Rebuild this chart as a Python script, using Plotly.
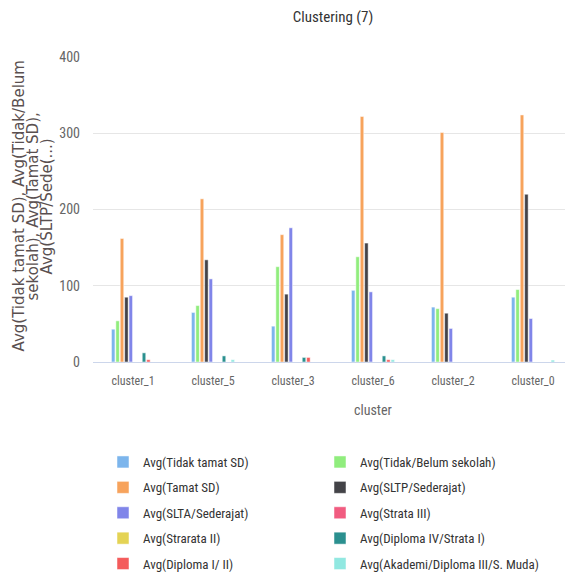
import plotly.graph_objects as go

categories = ["cluster_1", "cluster_5", "cluster_3", "cluster_6", "cluster_2", "cluster_0"]

series_names = [
    "Avg(Tidak tamat SD)",
    "Avg(Tidak/Belum sekolah)",
    "Avg(Tamat SD)",
    "Avg(SLTP/Sederajat)",
    "Avg(SLTA/Sederajat)",
    "Avg(Strata III)",
    "Avg(Strarata II)",
    "Avg(Diploma IV/Strata I)",
    "Avg(Diploma I/ II)",
    "Avg(Akademi/Diploma III/S. Muda)",
]

tidak_tamat_sd = [43, 65, 47, 94, 72, 85]
tidak_belum_sekolah = [54, 74, 125, 138, 70, 95]
tamat_sd = [162, 214, 167, 322, 301, 324]
sltp = [85, 134, 89, 156, 64, 220]
slta = [87, 109, 176, 92, 44, 57]
strata_iii = [0, 0, 0, 0, 0, 0]
strarata_ii = [0, 0, 0, 0, 0, 0]
diploma_iv = [12, 8, 6, 8, 0, 0]
diploma_i_ii = [3, 0, 6, 3, 0, 0]
akademi = [0, 3, 0, 3, 0, 2.5]

series_values = [tidak_tamat_sd, tidak_belum_sekolah, tamat_sd, sltp, slta,
                 strata_iii, strarata_ii, diploma_iv, diploma_i_ii, akademi]

colors = ["#7cb5ec", "#90ed7d", "#f7a35c", "#434348", "#8085e9",
          "#f15c80", "#e4d354", "#2b908f", "#f45b5b", "#91e8e1"]

y_ticks = [0, 100, 200, 300, 400]

FONT = "Liberation Sans Narrow, Roboto Condensed, Arial Narrow, Roboto, sans-serif"

# page body has an 8px margin, so coordinates are shifted by 8px
W, H = 565, 572
L, T = 85, 49
PH = 305
B = H - T - PH
PB = H - B  # plot bottom in figure pixels

fig = go.Figure()
for i, (name, vals, col) in enumerate(zip(series_names, series_values, colors)):
    fig.add_trace(go.Bar(
        x=categories, y=vals, name=name,
        marker=dict(color=col, line=dict(color="white", width=0.5)),
        legend="legend" if i % 2 == 0 else "legend2",
        legendgroup=f"g{i}",
    ))

legend_common = dict(
    orientation="v", yanchor="top", xanchor="left",
    font=dict(family=FONT, size=13, color="#333333"),
    tracegroupgap=5.5, traceorder="grouped", bgcolor="rgba(0,0,0,0)",
)
leg_top = -(439 - PB) / PH

fig.update_layout(
    width=W, height=H,
    margin=dict(l=L, r=0, t=T, b=B),
    paper_bgcolor="white", plot_bgcolor="white",
    barmode="group", bargap=0.45, bargroupgap=0.2,
    font=dict(family=FONT, color="#333333"),
    title=dict(text="Clustering (7)", x=0.5, xref="paper", xanchor="center",
               y=1 - 9 / H, yanchor="middle",
               font=dict(family=FONT, size=15, color="#333333")),
    showlegend=True,
    legend=dict(x=(95 - L) / 480, y=leg_top, **legend_common),
    legend2=dict(x=(312 - L) / 480, y=leg_top, **legend_common),
    xaxis=dict(
        type="category", showgrid=False, showline=True, linecolor="#ccd6eb",
        linewidth=1, ticks="", tickfont=dict(family=FONT, size=12, color="#666666"),
        ticklabelstandoff=8,
    ),
    yaxis=dict(
        range=[0, 400], tickvals=y_ticks, showgrid=True, gridcolor="#e6e6e6",
        zeroline=False, showline=False,
        tickfont=dict(family=FONT, size=14, color="#666666"),
        ticklabelstandoff=12,
    ),
)

yt_lines = ["Avg(Tidak tamat SD), Avg(Tidak/Belum", "sekolah), Avg(Tamat SD),", "Avg(SLTP/Sede(...)"]
yt_x = [10, 24, 38]
for txt, px in zip(yt_lines, yt_x):
    fig.add_annotation(
        text=txt, xref="paper", yref="paper", x=0, y=0.5,
        xanchor="center", yanchor="middle", xshift=px - L, yshift=3,
        textangle=-90, showarrow=False,
        font=dict(family="DejaVu Sans, Verdana, sans-serif", size=15, color="#5a5050"),
    )

fig.add_annotation(
    text="cluster", xref="paper", yref="paper", x=(365 - L) / 480, y=-(402 - PB) / PH,
    xanchor="center", yanchor="middle", showarrow=False,
    font=dict(family=FONT, size=14, color="#666666"),
)

fig.write_html("out.html")
